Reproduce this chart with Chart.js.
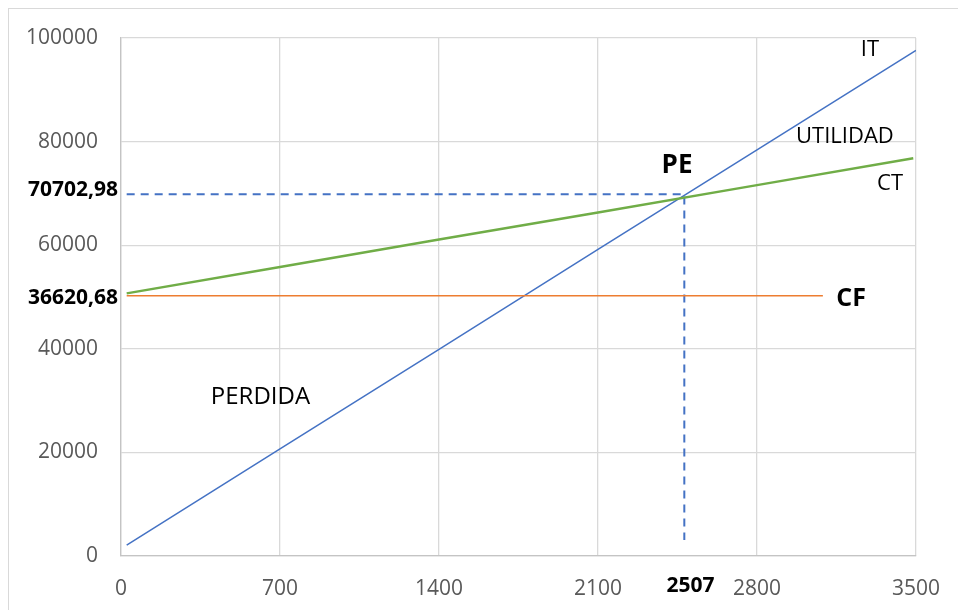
<!DOCTYPE html>
<html>
<head>
<meta charset="utf-8">
<script src="https://cdn.jsdelivr.net/npm/chart.js@4"></script>
<style>
  html, body { margin: 0; padding: 0; background: #fff; }
  #wrap { width: 958px; height: 610px; }
</style>
</head>
<body>
<div id="wrap"><canvas id="peChart" width="958" height="610"></canvas></div>
<script>
// ---------------------------------------------------------
// Data (punto de equilibrio)
// ---------------------------------------------------------
const xTicks = [0, 700, 1400, 2100, 2800, 3500];
const yTicks = [0, 20000, 40000, 60000, 80000, 100000];

const itX = [25, 700, 1400, 2100, 2800, 3500];
const itY = [2100, 20700, 39900, 59200, 78400, 97600];

const ctX = [25, 700, 1400, 2100, 2800, 3488];
const ctY = [50700, 55800, 61100, 66300, 71600, 76800];

const cfX = [25, 3090];
const cfY = [50250, 50250];

// dashed guides to the break-even point
const peX = [25, 2480, 2480];
const peY = [69850, 69850, 3100];

// text notes placed in data coordinates
const noteText = ["IT", "UTILIDAD", "CT", "PE", "CF", "PERDIDA"];
const noteX = [3297, 3187, 3386, 2448, 3214, 614];
const noteY = [97670, 80870, 71790, 75440, 49650, 30620];
const noteBold = [false, false, false, true, true, false];
const noteSize = [22, 22, 22, 26, 25, 24];

// bold axis labels
const yNoteText = ["70702,98", "36620,68"];
const yNoteVal = [70700, 49900];
const xNoteText = ["2507"];
const xNoteVal = [2507];

const FONT = "'Open Sans', 'Noto Sans', sans-serif";

function pts(xs, ys) {
  return xs.map((x, i) => ({ x: x, y: ys[i] }));
}

// ---------------------------------------------------------
// Plugin: frame + text notes
// ---------------------------------------------------------
const notesPlugin = {
  id: "notes",
  beforeDraw(chart) {
    const c = chart.ctx;
    c.save();
    c.fillStyle = "#fff";
    c.fillRect(0, 0, chart.width, chart.height);
    c.strokeStyle = "#d9d9d9";
    c.lineWidth = 1;
    c.strokeRect(8.5, 8.5, chart.width, chart.height);
    c.restore();
  },
  afterDraw(chart) {
    const c = chart.ctx;
    const xs = chart.scales.x, ys = chart.scales.y;
    c.save();
    c.fillStyle = "#000";
    c.textBaseline = "middle";

    c.textAlign = "center";
    noteText.forEach((t, i) => {
      c.font = (noteBold[i] ? "bold " : "") + noteSize[i] + "px " + FONT;
      c.fillText(t, xs.getPixelForValue(noteX[i]), ys.getPixelForValue(noteY[i]));
    });

    c.font = "bold 21px " + FONT;
    c.textAlign = "right";
    yNoteText.forEach((t, i) => {
      c.fillText(t, chart.chartArea.left - 3, ys.getPixelForValue(yNoteVal[i]));
    });

    c.textAlign = "center";
    xNoteText.forEach((t, i) => {
      c.fillText(t, xs.getPixelForValue(xNoteVal[i]), chart.chartArea.bottom + 30);
    });
    c.restore();
  }
};

// ---------------------------------------------------------
// Chart
// ---------------------------------------------------------
new Chart(document.getElementById("peChart"), {
  type: "scatter",
  data: {
    datasets: [
      { label: "CF", data: pts(cfX, cfY), borderColor: "#ED7D31", borderWidth: 1.5 },
      { label: "CT", data: pts(ctX, ctY), borderColor: "#70AD47", borderWidth: 2.5 },
      { label: "IT", data: pts(itX, itY), borderColor: "#4472C4", borderWidth: 1.5 },
      { label: "PE", data: pts(peX, peY), borderColor: "#4472C4", borderWidth: 2, borderDash: [8, 6] }
    ].map(d => Object.assign(d, { showLine: true, pointRadius: 0, fill: false, tension: 0 }))
  },
  options: {
    responsive: false,
    animation: false,
    layout: { padding: { left: 0, top: 38, right: 42, bottom: 0 } },
    plugins: { legend: { display: false }, tooltip: { enabled: false } },
    scales: {
      x: {
        type: "linear",
        min: xTicks[0],
        max: xTicks[xTicks.length - 1],
        afterBuildTicks: s => { s.ticks = xTicks.map(v => ({ value: v })); },
        afterFit: s => { s.height = 54; s.paddingLeft = 0; s.paddingRight = 0; },
        grid: { color: "#d9d9d9", lineWidth: 1.3, drawTicks: false },
        border: { color: "#c4c4c4", width: 1.3 },
        ticks: { color: "#595959", font: { family: FONT, size: 21 }, padding: 20, maxRotation: 0,
                 callback: v => String(v) }
      },
      y: {
        type: "linear",
        min: yTicks[0],
        max: yTicks[yTicks.length - 1],
        afterBuildTicks: s => { s.ticks = yTicks.map(v => ({ value: v })); },
        afterFit: s => { s.width = 121; s.paddingTop = 0; s.paddingBottom = 0; },
        grid: { color: "#d9d9d9", lineWidth: 1.3, drawTicks: false },
        border: { color: "#c4c4c4", width: 1.3 },
        ticks: { color: "#595959", font: { family: FONT, size: 21 }, padding: 23,
                 callback: v => String(v) }
      }
    }
  },
  plugins: [notesPlugin]
});
</script>
</body>
</html>
